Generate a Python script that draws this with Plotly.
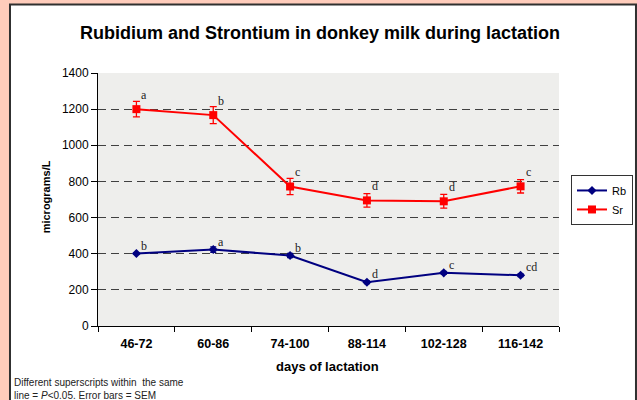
import plotly.graph_objects as go

# Lactation periods (days) and mineral concentrations in donkey milk (micrograms/L)
periods = ["46-72", "60-86", "74-100", "88-114", "102-128", "116-142"]
rb_mean = [401, 423, 390, 242, 294, 281]
rb_sem = [5, 15, 12, 8, 8, 7]
rb_letters = ["b", "a", "b", "d", "c", "cd"]
sr_mean = [1200, 1167, 772, 695, 690, 773]
sr_sem = [43, 47, 45, 37, 38, 37]
sr_letters = ["a", "b", "c", "d", "d", "c"]
y_ticks = [0, 200, 400, 600, 800, 1000, 1200, 1400]

SANS = "Liberation Sans, Arial, sans-serif"
SERIF = "Liberation Serif, Times New Roman, serif"
NAVY = "#000080"
RED = "#FF0000"

fig = go.Figure()

fig.add_trace(go.Scatter(
    x=periods, y=rb_mean, name="Rb", mode="lines+markers",
    line=dict(color=NAVY, width=2),
    marker=dict(symbol="diamond", size=7, color=NAVY),
    error_y=dict(type="data", array=rb_sem, color=NAVY, thickness=1.3, width=3),
))
fig.add_trace(go.Scatter(
    x=periods, y=sr_mean, name="Sr", mode="lines+markers",
    line=dict(color=RED, width=2),
    marker=dict(symbol="square", size=8, color=RED),
    error_y=dict(type="data", array=sr_sem, color=RED, thickness=1.3, width=3.5),
))

# Significance superscripts beside each point
annotations = []
for letters, vals, lift in ((rb_letters, rb_mean, 8), (sr_letters, sr_mean, 14)):
    for cat, v, t in zip(periods, vals, letters):
        annotations.append(dict(
            x=cat, y=v, xref="x", yref="y", text=t, showarrow=False,
            xanchor="left", yanchor="middle", xshift=3, yshift=lift,
            font=dict(family=SERIF, size=12, color="#222222"),
        ))

# Axis titles and footnote
annotations += [
    dict(text="<b>micrograms/L</b>", xref="paper", yref="paper", x=-0.112, y=0.51,
         textangle=-90, showarrow=False, xanchor="center", yanchor="middle",
         font=dict(family=SANS, size=11, color="black")),
    dict(text="<b>days of lactation</b>", xref="paper", yref="paper", x=0.497, y=-0.162,
         showarrow=False, xanchor="center", yanchor="middle",
         font=dict(family=SANS, size=13, color="black")),
    dict(text="Different superscripts within  the same<br>line = <i>P</i><0.05. Error bars = SEM",
         xref="paper", yref="paper", x=-0.187, y=-0.195, showarrow=False,
         xanchor="left", yanchor="top", align="left",
         font=dict(family=SANS, size=10, color="#222222")),
]

shapes = [
    # white chart panel with dark frame
    dict(type="rect", xref="paper", yref="paper", x0=-0.1909, x1=1.167, y0=-0.40, y1=1.271,
         fillcolor="white", line=dict(color="#303030", width=2), layer="below"),
    # plot area fill
    dict(type="rect", xref="paper", yref="paper", x0=0, x1=1, y0=0, y1=1,
         fillcolor="#EEEEEC", line=dict(width=0), layer="below"),
]

fig.update_layout(
    width=637, height=400,
    margin=dict(l=98, r=78, t=73, b=74, autoexpand=False),
    paper_bgcolor="#FFCCBB",
    plot_bgcolor="rgba(0,0,0,0)",
    title=dict(text="<b>Rubidium and Strontium in donkey milk during lactation</b>",
               x=0.4816, xref="paper", xanchor="center", y=0.9175, yanchor="middle",
               font=dict(family=SANS, size=18, color="black")),
    showlegend=True,
    legend=dict(x=1.026, y=0.597, xanchor="left", yanchor="top",
                bgcolor="white", bordercolor="#333333", borderwidth=1,
                font=dict(family=SANS, size=11, color="black"),
                tracegroupgap=1, itemwidth=30),
    annotations=annotations,
    shapes=shapes,
)

fig.update_xaxes(
    type="category", range=[-0.5, 5.5], showline=True, linecolor="black", linewidth=1,
    ticks="outside", tickson="boundaries", ticklen=5, tickcolor="black",
    showgrid=False, zeroline=False, ticklabelstandoff=6,
    tickfont=dict(family=SANS, size=12.5, color="black"),
    tickprefix="<b>", ticksuffix="</b>",
)
fig.update_yaxes(
    range=[0, 1400], tickvals=y_ticks, showline=True, linecolor="black", linewidth=1,
    ticks="outside", ticklen=6, tickcolor="black",
    showgrid=True, gridcolor="#404040", gridwidth=1, griddash="8px,5px",
    zeroline=False,
    tickfont=dict(family=SANS, size=12, color="black"),
    tickprefix="<b>", ticksuffix="</b>",
)

fig.write_html("out.html")
